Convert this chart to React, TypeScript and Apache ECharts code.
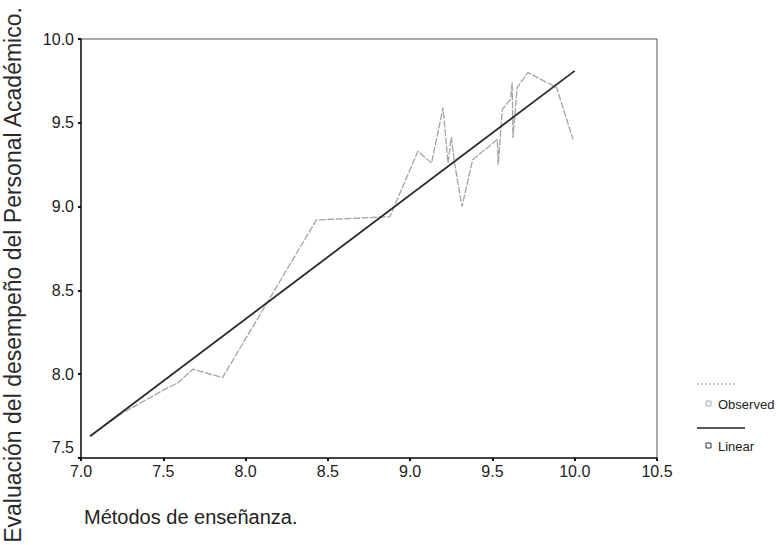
import React, { useEffect, useRef } from "react";
import * as echarts from "echarts";

// Observed curve: teaching-methods score vs. staff evaluation
const observedX = [7.055, 7.255, 7.5, 7.59, 7.68, 7.86, 8.43, 8.877, 9.047, 9.13, 9.2, 9.23, 9.25, 9.27, 9.315, 9.38, 9.53, 9.535, 9.56, 9.61, 9.62, 9.625, 9.65, 9.715, 9.89, 9.99];
const observedY = [7.63, 7.77, 7.905, 7.95, 8.03, 7.98, 8.92, 8.94, 9.33, 9.26, 9.59, 9.26, 9.415, 9.26, 9.0, 9.28, 9.4, 9.25, 9.58, 9.64, 9.74, 9.41, 9.71, 9.8, 9.71, 9.4];

// Linear fit end points
const linearX = [7.055, 10.0];
const linearY = [7.63, 9.81];

const xTicks = { min: 7, max: 10.5, step: 0.5 };
const yTicks = { min: 7.5, max: 10, step: 0.5 };

const xTitle = "Métodos de enseñanza.";
const yTitle = "Evaluación del desempeño del Personal Académico.";
const legendNames = ["Observed", "Linear"];

const FONT = "Liberation Sans, Arial, sans-serif";

export default function App() {
  const ref = useRef<HTMLDivElement>(null);

  useEffect(() => {
    if (!ref.current) return;
    const chart = echarts.init(ref.current, undefined, { renderer: "svg" });

    const observed = observedX.map((x, i) => [x, observedY[i]]);
    const linear = linearX.map((x, i) => [x, linearY[i]]);

    chart.setOption({
      animation: false,
      backgroundColor: "#ffffff",
      grid: {
        left: 81,
        top: 39,
        right: 121,
        bottom: 87,
        show: true,
        borderColor: "#555",
        borderWidth: 1,
      },
      xAxis: {
        type: "value",
        min: xTicks.min,
        max: xTicks.max,
        interval: xTicks.step,
        axisLine: { show: true, onZero: false, lineStyle: { color: "#222", width: 1.5 } },
        axisTick: { show: true, length: 3, lineStyle: { color: "#111", width: 2 } },
        axisLabel: {
          color: "#222",
          fontFamily: FONT,
          fontSize: 16,
          margin: 5,
          formatter: (v: number) => v.toFixed(1),
        },
        splitLine: { show: false },
      },
      yAxis: {
        type: "value",
        min: yTicks.min,
        max: yTicks.max,
        interval: yTicks.step,
        axisLine: { show: true, onZero: false, lineStyle: { color: "#222", width: 1.5 } },
        axisTick: { show: true, length: 3, lineStyle: { color: "#111", width: 2 } },
        axisLabel: {
          color: "#222",
          fontFamily: FONT,
          fontSize: 16,
          margin: 7,
          formatter: (v: number) =>
            v === yTicks.min ? "{low|" + v.toFixed(1) + "}" : v.toFixed(1),
          rich: {
            low: {
              fontFamily: FONT,
              fontSize: 16,
              color: "#222",
              padding: [0, 0, 22, 0],
            },
          },
        },
        splitLine: { show: false },
      },
      series: [
        {
          name: legendNames[0],
          type: "line",
          data: observed,
          symbol: "none",
          lineStyle: { color: "#a4a4a4", width: 1.3, type: [7, 1.5] },
          z: 2,
        },
        {
          name: legendNames[1],
          type: "line",
          data: linear,
          symbol: "none",
          lineStyle: { color: "#2a2a2a", width: 1.8 },
          z: 3,
        },
      ],
      graphic: [
        {
          type: "text",
          x: 13,
          y: 275,
          rotation: Math.PI / 2,
          style: {
            text: yTitle,
            font: "23px " + FONT,
            fill: "#2a2a2a",
            textAlign: "center",
            textVerticalAlign: "middle",
          },
        },
        {
          type: "text",
          x: 84,
          y: 517,
          style: {
            text: xTitle,
            font: "20px " + FONT,
            fill: "#222",
            textAlign: "left",
            textVerticalAlign: "middle",
          },
        },
        // legend: Observed
        {
          type: "line",
          shape: { x1: 697, y1: 384, x2: 737, y2: 384 },
          style: { stroke: "#999", lineWidth: 1.2, lineDash: [2, 2] },
        },
        {
          type: "rect",
          shape: { x: 706, y: 401, width: 5, height: 5 },
          style: { fill: "#fff", stroke: "#aaa", lineWidth: 1 },
        },
        {
          type: "text",
          x: 718,
          y: 404,
          style: {
            text: legendNames[0],
            font: "13px " + FONT,
            fill: "#222",
            textVerticalAlign: "middle",
          },
        },
        // legend: Linear
        {
          type: "line",
          shape: { x1: 697, y1: 428, x2: 745, y2: 428 },
          style: { stroke: "#222", lineWidth: 1.3 },
        },
        {
          type: "rect",
          shape: { x: 706, y: 443, width: 5, height: 5 },
          style: { fill: "#fff", stroke: "#333", lineWidth: 1 },
        },
        {
          type: "text",
          x: 718,
          y: 446,
          style: {
            text: legendNames[1],
            font: "13px " + FONT,
            fill: "#222",
            textVerticalAlign: "middle",
          },
        },
      ],
    });

    return () => chart.dispose();
  }, []);

  return (
    <div
      ref={ref}
      style={{ position: "fixed", left: 0, top: 0, width: 778, height: 545, background: "#fff" }}
    />
  );
}
